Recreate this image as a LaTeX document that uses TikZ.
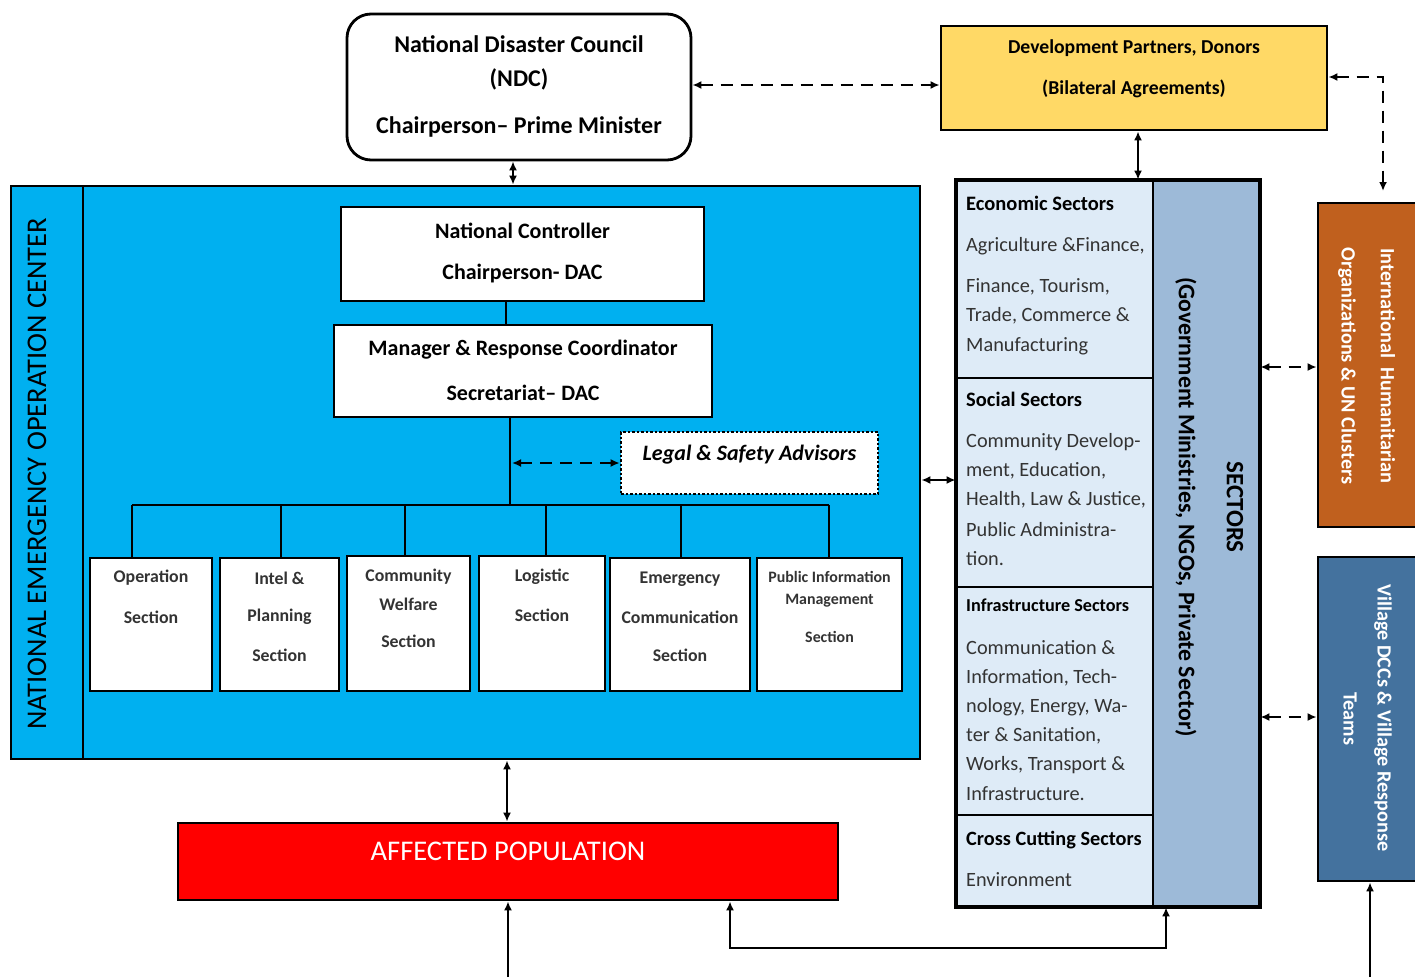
\documentclass[tikz,border=0pt]{standalone}
\usepackage{fontspec}
\setmainfont{Carlito}
\usetikzlibrary{arrows.meta,calc}
\definecolor{neoc}{HTML}{00B0F0}
\definecolor{donor}{HTML}{FFD966}
\definecolor{secstrip}{RGB}{157,186,216}
\definecolor{secbox}{HTML}{DEEBF7}
\definecolor{intl}{HTML}{C0601E}
\definecolor{village}{HTML}{44729E}
\definecolor{affected}{HTML}{FF0000}
\definecolor{dgray}{HTML}{333333}
\newcommand{\fs}[1]{\fontsize{#1}{#1}\selectfont}
\tikzset{
  box/.style={draw=black, line width=2.8pt, inner sep=0pt, fill=white},
  txt/.style={inner sep=0pt, align=center},
  sectxt/.style={inner sep=0pt, align=center, text=dgray, font=\bfseries},
  ltxt/.style={inner sep=0pt, anchor=base west},
  btxt/.style={inner sep=0pt, anchor=base west, text=dgray},
  arr/.style={line width=2.2pt, {Latex[length=9pt,width=8pt]}-{Latex[length=9pt,width=8pt]}},
  uparr/.style={line width=2.2pt, -{Latex[length=9pt,width=8pt]}},
  darr/.style={line width=2.8pt, dash pattern=on 12pt off 8pt, {Latex[length=9pt,width=8pt]}-{Latex[length=9pt,width=8pt]}},
  plain/.style={line width=2.8pt}
}
\begin{document}
\begin{tikzpicture}[x=1pt,y=-1pt]
\clip (0,0) rectangle (1415,977);
\fill[white] (0,0) rectangle (1415,977);

% ---- top boxes
\node[box, rounded corners=24pt, minimum width=344pt, minimum height=146pt] (ndc) at (519,87) {};
\node[txt] (ndct1) at (519,44) {\fs{24}\bfseries National Disaster Council};
\node[txt] (ndct2) at (519,79) {\fs{24}\bfseries (NDC)};
\node[txt] (ndct3) at (519,127) {\fs{24}\bfseries Chairperson– Prime Minister};

\node[box, fill=donor, minimum width=386pt, minimum height=104pt] (dev) at (1134,78) {};
\node[txt] (devt1) at (1134,48) {\fs{19.7}\bfseries Development Partners, Donors};
\node[txt] (devt2) at (1134,89) {\fs{19.7}\bfseries (Bilateral Agreements)};

% ---- NEOC
\node[box, fill=neoc, minimum width=909pt, minimum height=573pt] (neoc) at (465.5,472.5) {};
\node[box, fill=neoc, minimum width=72pt, minimum height=573pt] (strip) at (47,472.5) {};
\node[txt, rotate=90] (stript) at (37,474) {\fs{28.5}NATIONAL EMERGENCY OPERATION CENTER};

\node[box, minimum width=363pt, minimum height=94pt] (nc) at (522.5,254) {};
\node[txt] (nct1) at (522.5,231) {\fs{22}\bfseries National Controller};
\node[txt] (nct2) at (522.5,274) {\fs{22}\bfseries Chairperson- DAC};

\node[box, minimum width=378pt, minimum height=92pt] (mgr) at (523,371) {};
\node[txt] (mgrt1) at (523,350) {\fs{22}\bfseries Manager \& Response Coordinator};
\node[txt] (mgrt2) at (523,393) {\fs{22}\bfseries Secretariat– DAC};

\node[box, line width=2.6pt, dash pattern=on 2.5pt off 2pt, minimum width=257pt, minimum height=62pt] (legal) at (749.5,463) {};
\node[txt] (legalt) at (749.5,455) {\fs{22}\bfseries\itshape Legal \& Safety Advisors};

% section boxes
\node[box, minimum width=122pt, minimum height=133pt] (s1) at (151,624.5) {};
\node[box, minimum width=119pt, minimum height=133pt] (s2) at (279.5,624.5) {};
\node[box, minimum width=123pt, minimum height=135pt] (s3) at (408.5,623.5) {};
\node[box, minimum width=126pt, minimum height=135pt] (s4) at (542,623.5) {};
\node[box, minimum width=140pt, minimum height=133pt] (s5) at (680,624.5) {};
\node[box, minimum width=145pt, minimum height=133pt] (s6) at (829.5,624.5) {};

\node[sectxt] (s1a) at (151,578) {\fs{17.8}Operation};
\node[sectxt] (s1b) at (151,617) {\fs{17.8}Section};
\node[sectxt] (s2a) at (279.5,578) {\fs{17.8}Intel \&};
\node[sectxt] (s2b) at (279.5,617) {\fs{17.8}Planning};
\node[sectxt] (s2c) at (279.5,655) {\fs{17.8}Section};
\node[sectxt] (s3a) at (408.5,577) {\fs{17.8}Community};
\node[sectxt] (s3b) at (408.5,604) {\fs{17.8}Welfare};
\node[sectxt] (s3c) at (408.5,641) {\fs{17.8}Section};
\node[sectxt] (s4a) at (542,577) {\fs{17.8}Logistic};
\node[sectxt] (s4b) at (542,615) {\fs{17.8}Section};
\node[sectxt] (s5a) at (680,579) {\fs{17.8}Emergency};
\node[sectxt] (s5b) at (680,617) {\fs{17.8}Communication};
\node[sectxt] (s5c) at (680,655) {\fs{17.8}Section};
\node[sectxt] (s6a) at (829.5,577) {\fs{15.9}Public Information};
\node[sectxt] (s6b) at (829.5,601) {\fs{15.9}Management};
\node[sectxt] (s6c) at (829.5,637) {\fs{15.9}Section};

% ---- affected population
\node[box, fill=affected, minimum width=660pt, minimum height=77pt] (aff) at (508,861.5) {};
\node[txt, text=white] (afft) at (508,851) {\fs{28.5}AFFECTED POPULATION};

% ---- sectors
\node[box, fill=secstrip, minimum width=302pt, minimum height=725pt] (sec) at (1108,543.5) {};
\node[box, fill=secbox, minimum width=196pt, minimum height=197pt] (eco) at (1055,279.5) {};
\node[box, fill=secbox, minimum width=196pt, minimum height=209pt] (soc) at (1055,482.5) {};
\node[box, fill=secbox, minimum width=196pt, minimum height=228pt] (inf) at (1055,701) {};
\node[box, fill=secbox, minimum width=196pt, minimum height=91pt] (cro) at (1055,860.5) {};
\draw[plain] (sec.north west) rectangle (sec.south east);

\node[txt, rotate=-90] (sect1) at (1235,507) {\fs{25}\bfseries SECTORS};
\node[txt, rotate=-90] (sect2) at (1186,507) {\fs{23.8}\bfseries (Government Ministries, NGOs, Private Sector)};

\node[ltxt] (eco0) at (966,210) {\fs{20.5}\bfseries Economic Sectors};
\node[btxt] (eco1) at (966,251) {\fs{20.3}Agriculture \&Finance,};
\node[btxt] (eco2) at (966,292) {\fs{20.3}Finance, Tourism,};
\node[btxt] (eco3) at (966,321) {\fs{20.3}Trade, Commerce \&};
\node[btxt] (eco4) at (966,351) {\fs{20.3}Manufacturing};

\node[ltxt] (soc0) at (966,406) {\fs{20.5}\bfseries Social Sectors};
\node[btxt] (soc1) at (966,447) {\fs{20.3}Community Develop-};
\node[btxt] (soc2) at (966,476) {\fs{20.3}ment, Education,};
\node[btxt] (soc3) at (966,505) {\fs{20.3}Health, Law \& Justice,};
\node[btxt] (soc4) at (966,536) {\fs{20.3}Public Administra-};
\node[btxt] (soc5) at (966,565) {\fs{20.3}tion.};

\node[ltxt] (inf0) at (966,611) {\fs{18.2}\bfseries Infrastructure Sectors};
\node[btxt] (inf1) at (966,654) {\fs{20.3}Communication \&};
\node[btxt] (inf2) at (966,683) {\fs{20.3}Information, Tech-};
\node[btxt] (inf3) at (966,712) {\fs{20.3}nology, Energy, Wa-};
\node[btxt] (inf4) at (966,741) {\fs{20.3}ter \& Sanitation,};
\node[btxt] (inf5) at (966,770) {\fs{20.3}Works, Transport \&};
\node[btxt] (inf6) at (966,800) {\fs{20.3}Infrastructure.};

\node[ltxt] (cro0) at (966,845) {\fs{20.3}\bfseries Cross Cutting Sectors};
\node[btxt] (cro1) at (966,886) {\fs{20.3}Environment};

% ---- right boxes
\node[box, fill=intl, minimum width=112pt, minimum height=324pt] (intlb) at (1374,365) {};
\node[txt, rotate=-90, text=white] (intlt1) at (1388,366) {\fs{20.3}\bfseries International\ \ Humanitarian};
\node[txt, rotate=-90, text=white] (intlt2) at (1347,366) {\fs{20.3}\bfseries Organizations \& UN Clusters};

\node[box, fill=village, minimum width=112pt, minimum height=324pt] (vil) at (1374,719) {};
\node[txt, rotate=-90, text=white] (vilt1) at (1383,718) {\fs{20.2}\bfseries Village DCCs \& Village Response};
\node[txt, rotate=-90, text=white] (vilt2) at (1350,719) {\fs{20.2}\bfseries Teams};

% ---- connectors
\draw[arr] (ndc.south -| 513,0) -- (neoc.north -| 513,0);
\draw[darr] (ndc.east |- 0,85) -- (dev.west |- 0,85);
\coordinate (intlin) at (1383,191);
\draw[darr] (dev.east |- 0,77) -| (intlin);
\draw[arr] (dev.south -| 1138,0) -- (sec.north -| 1138,0);

\draw[plain] (nc.south -| 506,0) -- (mgr.north -| 506,0);
\coordinate (bus) at (510,505);
\draw[plain] (mgr.south -| bus) -- (bus);
\draw[darr] (legal.west -| 512,0) -- (legal.west);
\draw[plain] (132,505) -- (829,505);
\draw[plain] (132,505) -- (s1.north -| 132,0);
\draw[plain] (281,505) -- (s2.north -| 281,0);
\draw[plain] (405,505) -- (s3.north -| 405,0);
\draw[plain] (546,505) -- (s4.north -| 546,0);
\draw[plain] (681,505) -- (s5.north -| 681,0);
\draw[plain] (829,505) -- (s6.north -| 829,0);

\draw[arr] (neoc.south -| 507,0) -- (aff.north -| 507,0);
\draw[arr] (neoc.east |- 0,480) -- (sec.west |- 0,480);
\draw[darr] (sec.east |- 0,367) -- (intlb.west |- 0,367);
\draw[darr] (sec.east |- 0,717) -- (vil.west |- 0,717);

\coordinate (botA) at (508,977);
\coordinate (botV) at (1370,977);
\draw[uparr] (botA) -- (aff.south -| botA);
\draw[uparr] (botV) -- (vil.south -| botV);
\draw[arr] (aff.south -| 730,0) -- (730,948) -- (1166,948) -- (sec.south -| 1166,0);
\end{tikzpicture}
\end{document}
